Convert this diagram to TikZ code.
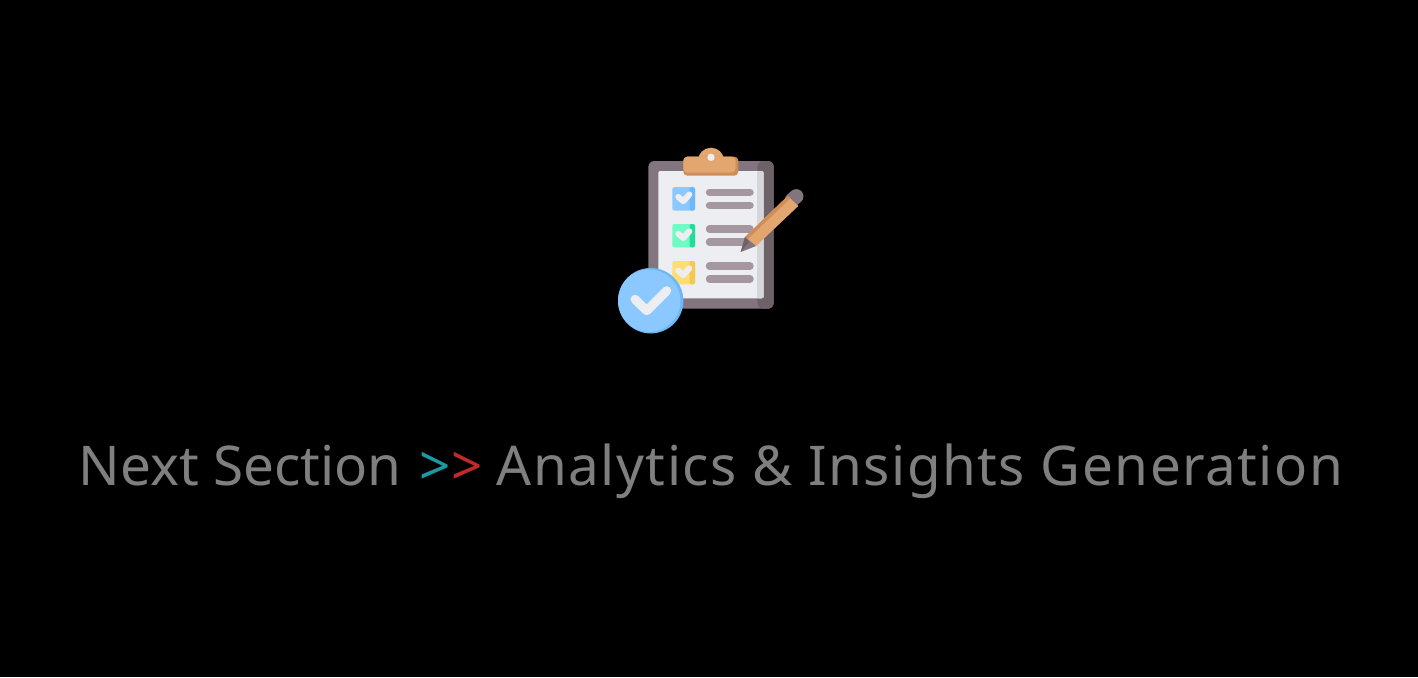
\documentclass[tikz,border=0pt]{standalone}
\usepackage{fontspec}
\setmainfont{Noto Sans}
\usetikzlibrary{positioning,calc}
\definecolor{bgc}{HTML}{000000}
\definecolor{txtc}{HTML}{7F7F7F}
\definecolor{tealc}{HTML}{1B9AA0}
\definecolor{redc}{HTML}{C22A2A}
\definecolor{boardc}{HTML}{837580}
\definecolor{boarddk}{HTML}{6C6268}
\definecolor{paperc}{HTML}{ECEEF2}
\definecolor{paperdk}{HTML}{D5D5DA}
\definecolor{clipc}{HTML}{E2A66E}
\definecolor{clipdk}{HTML}{CF8E58}
\definecolor{linec}{HTML}{A5979F}
\definecolor{bluec}{HTML}{8AC8FF}
\definecolor{bluedk}{HTML}{6DB8F5}
\definecolor{greenc}{HTML}{6FFBC4}
\definecolor{greendk}{HTML}{22DD9A}
\definecolor{yellowc}{HTML}{FFDD70}
\definecolor{yellowdk}{HTML}{F5C850}
\tikzset{
  title/.style = {font=\fontsize{27.4pt}{33pt}\selectfont, text=txtc, inner sep=0pt},
  rowline/.style = {line width=3.7pt, line cap=round, draw=linec},
  tick/.style  = {line width=3pt, line cap=round, line join=round, draw=paperc},
}
\newcommand{\checkrow}[3]{%
  \fill[#2, rounded corners=1pt] (672.3,#1) rectangle (695,#1+23.3);
  \fill[#3, rounded corners=1pt] (689.5,#1) rectangle (695,#1+23.3);
  \draw[tick] (678.3,#1+9.7) -- (683.3,#1+14) -- (689.3,#1+7.3);
  \draw[rowline] (709.5,#1+5) -- (750,#1+5);
  \draw[rowline] (709.5,#1+18) -- (750,#1+18);
}
\begin{document}
\begin{tikzpicture}[x=0.5pt,y=-0.5pt]
  \fill[bgc] (0,0) rectangle (1418,677);
  \useasboundingbox (0,0) rectangle (1418,677);
  \fill[boardc, rounded corners=3pt] (648.3,161) rectangle (773.7,308.7);
  \fill[boarddk, rounded corners=3pt] (757.3,161) rectangle (773.7,308.7);
  \fill[paperc, rounded corners=1pt] (658.3,171) rectangle (763.7,298.3);
  \fill[paperdk, rounded corners=1pt] (757,171) rectangle (763.7,298.3);
  \fill[clipc] (711,160.7) circle (13);
  \fill[clipdk, rounded corners=2pt] (683.3,156.7) rectangle (738.3,175.7);
  \fill[clipc, rounded corners=2pt] (683.3,156.7) rectangle (735.5,172.5);
  \fill[paperc] (711,157.3) circle (3.7);
  \checkrow{187.2}{bluec}{bluedk}
  \checkrow{224}{greenc}{greendk}
  \checkrow{261}{yellowc}{yellowdk}
  \draw[boardc, line width=7.2pt, line cap=round] (792,200) -- (796.3,196.3);
  \fill[clipc] (745,237) -- (787.7,196) -- (798.3,206) -- (756,246) -- cycle;
  \fill[clipdk] (745,237) -- (787.7,196) -- (790.2,198.4) -- (747.6,239.2) -- cycle;
  \fill[boardc] (745,237) -- (740.7,252) -- (756,246) -- cycle;
  \fill[boarddk] (745,237) -- (740.7,252) -- (749,242) -- cycle;
  \fill[bluedk] (650.7,300.7) circle (32.7);
  \fill[bluec] (649.2,300.7) circle (31.2);
  \draw[line width=4.5pt, line cap=round, line join=round, draw=paperc]
    (635,299.3) -- (646.7,310.7) -- (666.7,290.7);
  \node[title, anchor=base west] (heading) at (78.5,485)
    {Next Section\hspace{2pt} \textcolor{tealc}{>}\textcolor{redc}{>} {\addfontfeature{LetterSpace=2.7}Analytics \& Insights Generation}};
\end{tikzpicture}
\end{document}
